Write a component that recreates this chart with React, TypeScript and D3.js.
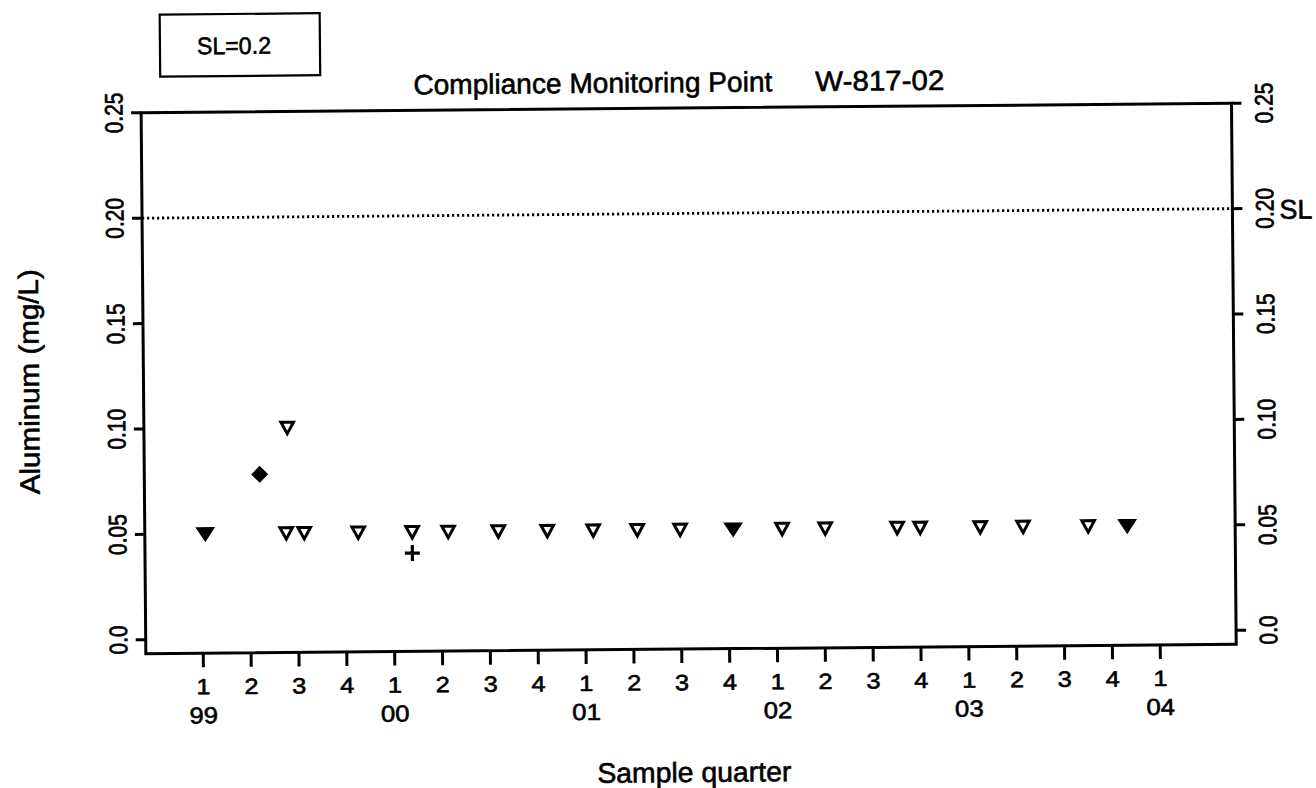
import React from "react";
import * as d3 from "d3";

// ---- data (decimal-year sample dates, mg/L) ----
const yTickValues = [0, 0.05, 0.1, 0.15, 0.2, 0.25];
const yTickLabels = ["0.0", "0.05", "0.10", "0.15", "0.20", "0.25"];
const quarterLabels = ["1", "2", "3", "4"];
const yearLabels = ["99", "00", "01", "02", "03", "04"];
const firstYear = 1999;
const lastYear = 2004;
const standardLimit = 0.2;

// detected value (filled diamond)
const detectTimes = [1999.303];
const detectValues = [0.078];

// non-detects (open down triangles)
const ndTimes = [
  1999.449, 1999.439, 1999.533, 1999.815, 2000.097, 2000.285, 2000.547,
  2000.803, 2001.043, 2001.273, 2001.497, 2002.03, 2002.255, 2002.631,
  2002.751, 2003.065, 2003.289, 2003.629,
];
const ndValues = [
  0.1, 0.05, 0.05, 0.05, 0.05, 0.05, 0.05, 0.05, 0.05, 0.05, 0.05, 0.05,
  0.05, 0.05, 0.05, 0.05, 0.05, 0.05,
];

// overlapping non-detects (bold triangles)
const ndDupTimes = [1999.016, 2001.774, 2003.833];
const ndDupValues = [0.05, 0.05, 0.05];

// other result (plus)
const plusTimes = [2000.097];
const plusValues = [0.04];

const FONT = "'Liberation Sans', Arial, Helvetica, sans-serif";
const TS = { stroke: "#000", strokeWidth: 0.6 } as const;

export default function App() {
  const W = 1316;
  const H = 788;
  const left = 143.6;
  const right = 1234;
  const top = 108;
  const bottom = 649;

  const x = d3.scaleLinear().domain([1998.7, 2004.397]).range([left, right]);
  const y = d3.scaleLinear().domain([0, 0.25]).range([635, top]);

  const quarterTicks = d3.range(0, (lastYear - firstYear) * 4 + 1).map((q) => firstYear + q / 4);

  const tri = (cx: number, cy: number, hw: number, h1: number, h2: number) =>
    `M${cx - hw},${cy - h1}L${cx + hw},${cy - h1}L${cx},${cy + h2}Z`;

  return (
    <svg
      width={W}
      height={H}
      style={{ position: "absolute", left: 0, top: 0, background: "#fff" }}
      fontFamily={FONT}
    >
      <rect x={0} y={0} width={W} height={H} fill="#fff" />
      <g transform="rotate(-0.5, 690, 394)">
        {/* SL box */}
        <rect x={163} y={10} width={160} height={62} fill="none" stroke="#000" strokeWidth={2.2} />
        <text x={200} y={50} fontSize={24} textLength={74} lengthAdjust="spacingAndGlyphs" fill="#000" {...TS}>
          SL=0.2
        </text>

        {/* title */}
        <text x={416} y={92} fontSize={28} textLength={359} lengthAdjust="spacingAndGlyphs" fill="#000" {...TS}>
          Compliance Monitoring Point
        </text>
        <text x={818} y={92} fontSize={28} textLength={129} lengthAdjust="spacingAndGlyphs" fill="#000" {...TS}>
          W-817-02
        </text>

        {/* SL dotted line */}
        <line
          x1={left}
          x2={right}
          y1={y(standardLimit)}
          y2={y(standardLimit)}
          stroke="#000"
          strokeWidth={2.8}
          strokeDasharray="2.2 2.8"
        />

        {/* frame */}
        <path
          d={`M${left},${top}L${left},${bottom}L${right},${bottom}L${right},${top}Z`}
          fill="none"
          stroke="#000"
          strokeWidth={3}
        />

        {/* y ticks & labels, both sides */}
        {yTickValues.map((v, i) => (
          <g key={"yt" + i}>
            <line x1={left - 10} x2={left} y1={y(v)} y2={y(v)} stroke="#000" strokeWidth={3} />
            <line x1={right} x2={right + 10} y1={y(v)} y2={y(v)} stroke="#000" strokeWidth={3} />
            <text
              transform={`translate(125,${y(v)}) scale(1.2,1) rotate(-90)`}
              fontSize={21}
              textAnchor="middle"
              fill="#000"
              {...TS}
            >
              {yTickLabels[i]}
            </text>
            <text
              transform={`translate(1275,${y(v)}) scale(1.2,1) rotate(-90)`}
              fontSize={21}
              textAnchor="middle"
              fill="#000"
              {...TS}
            >
              {yTickLabels[i]}
            </text>
          </g>
        ))}
        <text x={1281} y={224} fontSize={27} textLength={33} lengthAdjust="spacingAndGlyphs" fill="#000" {...TS}>
          SL
        </text>

        {/* x ticks & labels */}
        {quarterTicks.map((t, i) => (
          <g key={"xt" + i}>
            <line x1={x(t)} x2={x(t)} y1={bottom} y2={bottom + 14} stroke="#000" strokeWidth={3} />
            <text
              transform={`translate(${x(t)},690) scale(1.15,1)`}
              fontSize={22}
              textAnchor="middle"
              fill="#000"
              {...TS}
            >
              {quarterLabels[i % 4]}
            </text>
            {i % 4 === 0 ? (
              <text
                transform={`translate(${x(t)},719) scale(1.12,1)`}
                fontSize={23}
                textAnchor="middle"
                fill="#000"
                {...TS}
              >
                {yearLabels[i / 4]}
              </text>
            ) : null}
          </g>
        ))}

        {/* axis titles */}
        <text
          transform="translate(39,376) rotate(-90)"
          fontSize={28}
          textAnchor="middle"
          textLength={225}
          lengthAdjust="spacingAndGlyphs"
          fill="#000"
          {...TS}
        >
          Aluminum (mg/L)
        </text>
        <text
          x={691}
          y={782}
          fontSize={28}
          textAnchor="middle"
          textLength={194}
          lengthAdjust="spacingAndGlyphs"
          fill="#000"
          {...TS}
        >
          Sample quarter
        </text>

        {/* non-detect triangles */}
        {ndTimes.map((t, i) => (
          <path
            key={"nd" + i}
            d={tri(x(t), y(ndValues[i]), 6.3, 5.5, 6)}
            fill="#fff"
            stroke="#000"
            strokeWidth={3}
            strokeLinejoin="miter"
          />
        ))}
        {/* overlapping non-detects */}
        {ndDupTimes.map((t, i) => (
          <path
            key={"ndd" + i}
            d={tri(x(t), y(ndDupValues[i]), 8.5, 6, 7)}
            fill="#000"
            stroke="#000"
            strokeWidth={1.5}
          />
        ))}
        {/* detected value */}
        {detectTimes.map((t, i) => {
          const cx = x(t);
          const cy = y(detectValues[i]);
          return (
            <path
              key={"dt" + i}
              d={`M${cx},${cy - 8.5}L${cx + 8.5},${cy}L${cx},${cy + 8.5}L${cx - 8.5},${cy}Z`}
              fill="#000"
            />
          );
        })}
        {/* plus */}
        {plusTimes.map((t, i) => {
          const cx = x(t);
          const cy = y(plusValues[i]);
          return (
            <path
              key={"pl" + i}
              d={`M${cx - 7.5},${cy}L${cx + 7.5},${cy}M${cx},${cy - 8}L${cx},${cy + 8}`}
              stroke="#000"
              strokeWidth={3.2}
              fill="none"
            />
          );
        })}
      </g>
    </svg>
  );
}
